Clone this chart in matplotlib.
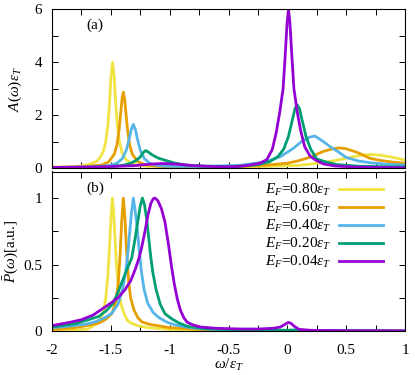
"""
plot.py - Spectral function A(w) and normalized spectrum P(w) for several Fermi energies.

Two stacked panels sharing the frequency axis, gnuplot-like look.
"""

import matplotlib
matplotlib.use("Agg")
import matplotlib.pyplot as plt
from matplotlib.ticker import MultipleLocator, FixedLocator, FuncFormatter

# ---- data ----
fermi_labels = ["0.80", "0.60", "0.40", "0.20", "0.04"]
colors = ["#f0e442", "#e69f00", "#56b4e9", "#009e73", "#9400d3"]

# panel (a): A(w) eps_T
w_a_080 = [-2.0, -1.8, -1.72, -1.663, -1.617, -1.583, -1.56, -1.543, -1.525, -1.511, -1.499,
           -1.485, -1.471, -1.459, -1.445, -1.428, -1.405, -1.376, -1.33, -1.272, -1.2, -1.0,
           -0.6, -0.2, 0.1, 0.3, 0.45, 0.55, 0.65, 0.72, 0.8, 0.9, 1.0]
a_080 = [0.03, 0.05, 0.1, 0.17, 0.26, 0.46, 0.68, 1.0, 1.63, 2.46, 3.42,
         4.0, 3.42, 2.46, 1.63, 1.02, 0.59, 0.34, 0.18, 0.11, 0.07, 0.06,
         0.04, 0.06, 0.1, 0.2, 0.32, 0.42, 0.5, 0.51, 0.48, 0.4, 0.3]

w_a_060 = [-2.0, -1.8, -1.69, -1.573, -1.516, -1.47, -1.447, -1.43, -1.416, -1.404, -1.394,
           -1.384, -1.372, -1.358, -1.341, -1.318, -1.274, -1.217, -1.113, -1.0, -0.6, -0.2,
           0.0, 0.1, 0.2, 0.3, 0.38, 0.44, 0.5, 0.6, 0.7, 0.8, 0.9, 1.0]
a_060 = [0.025, 0.035, 0.06, 0.12, 0.24, 0.53, 0.9, 1.44, 2.09, 2.65, 2.87,
         2.65, 2.09, 1.44, 0.9, 0.53, 0.25, 0.13, 0.07, 0.04, 0.03, 0.1,
         0.18, 0.28, 0.42, 0.62, 0.72, 0.76, 0.73, 0.58, 0.37, 0.28, 0.22, 0.18]

w_a_040 = [-2.0, -1.8, -1.65, -1.59, -1.506, -1.448, -1.402, -1.368, -1.345, -1.327, -1.309,
           -1.291, -1.273, -1.25, -1.216, -1.17, -1.112, -1.04, -0.95, -0.7, -0.4,
           -0.18, -0.06, 0.05, 0.12, 0.19, 0.235, 0.3, 0.36, 0.43, 0.5, 0.6, 0.7, 0.85, 1.0]
a_040 = [0.02, 0.03, 0.04, 0.06, 0.1, 0.18, 0.36, 0.68, 1.08, 1.45, 1.65,
         1.45, 1.08, 0.68, 0.36, 0.18, 0.1, 0.07, 0.06, 0.06, 0.1,
         0.24, 0.43, 0.74, 1.0, 1.17, 1.21, 1.02, 0.82, 0.62, 0.4, 0.27, 0.2, 0.14, 0.11]

w_a_020 = [-2.0, -1.7, -1.5, -1.4, -1.33, -1.28, -1.25, -1.225, -1.204, -1.18, -1.15,
           -1.1, -1.03, -0.95, -0.86, -0.7, -0.5, -0.4, -0.25, -0.15, -0.08, -0.03,
           0.01, 0.04, 0.065, 0.084, 0.103, 0.128, 0.158, 0.198, 0.25, 0.32, 0.42,
           0.6, 0.8, 1.0]
a_020 = [0.02, 0.03, 0.06, 0.1, 0.18, 0.3, 0.42, 0.58, 0.66, 0.6, 0.5,
         0.38, 0.28, 0.18, 0.11, 0.07, 0.06, 0.07, 0.13, 0.24, 0.43, 0.72,
         1.2, 1.77, 2.25, 2.39, 2.25, 1.77, 1.2, 0.72, 0.34, 0.24, 0.13,
         0.07, 0.05, 0.04]

w_a_004 = [-2.0, -1.6, -1.3, -1.15, -1.06, -0.95, -0.8, -0.6, -0.45, -0.347, -0.232, -0.174,
           -0.128, -0.094, -0.065, -0.036, -0.019, -0.002, 0.01, 0.022, 0.039, 0.056, 0.085,
           0.114, 0.148, 0.194, 0.24, 0.31, 0.4, 0.56, 0.75, 1.0]
a_004 = [0.02, 0.04, 0.09, 0.15, 0.17, 0.15, 0.09, 0.05, 0.05, 0.09, 0.18, 0.32,
         0.7, 1.35, 2.1, 3.0, 4.2, 5.5, 6.0, 5.5, 4.2, 3.0, 2.1,
         1.4, 0.8, 0.45, 0.3, 0.15, 0.08, 0.04, 0.02, 0.01]

# panel (b): normalized P(w)
w_p_080 = [-2.0, -1.8, -1.7, -1.665, -1.62, -1.585, -1.56, -1.543, -1.526, -1.51, -1.497,
           -1.487, -1.477, -1.465, -1.452, -1.435, -1.413, -1.387, -1.36, -1.33, -1.27,
           -1.184, -1.0, -0.5, 1.0]
p_080 = [0.0, 0.005, 0.015, 0.03, 0.055, 0.093, 0.16, 0.25, 0.41, 0.65, 0.88,
         1.0, 0.9, 0.7, 0.5, 0.32, 0.2, 0.13, 0.08, 0.06, 0.04,
         0.025, 0.012, 0.004, 0.0]

w_p_060 = [-2.0, -1.8, -1.68, -1.6, -1.54, -1.49, -1.458, -1.437, -1.422, -1.408, -1.394,
           -1.38, -1.366, -1.349, -1.332, -1.304, -1.27, -1.235, -1.17, -1.1, -1.0,
           -0.7, -0.3, 1.0]
p_060 = [0.01, 0.025, 0.045, 0.06, 0.09, 0.133, 0.22, 0.36, 0.56, 0.82, 1.0,
         0.85, 0.6, 0.38, 0.25, 0.16, 0.1, 0.068, 0.05, 0.04, 0.025,
         0.01, 0.004, 0.0]

w_p_040 = [-2.0, -1.85, -1.72, -1.63, -1.55, -1.492, -1.44, -1.401, -1.375, -1.356, -1.336,
           -1.323, -1.309, -1.295, -1.279, -1.258, -1.239, -1.217, -1.187, -1.141, -1.09,
           -1.02, -0.95, -0.85, -0.7, -0.4, 0.0, 1.0]
p_040 = [0.025, 0.037, 0.05, 0.07, 0.1, 0.133, 0.2, 0.31, 0.44, 0.58, 0.78,
         0.9, 1.0, 0.92, 0.8, 0.6, 0.44, 0.31, 0.21, 0.14, 0.1,
         0.065, 0.045, 0.028, 0.015, 0.007, 0.003, 0.0]

w_p_020 = [-2.0, -1.8, -1.6, -1.53, -1.48, -1.44, -1.4, -1.36, -1.322, -1.293, -1.27,
           -1.25, -1.232, -1.214, -1.195, -1.178, -1.161, -1.143, -1.115, -1.08, -1.04,
           -0.98, -0.92, -0.85, -0.7, -0.4, 0.0, 0.08, 0.2, 1.0]
p_020 = [0.03, 0.055, 0.11, 0.16, 0.21, 0.29, 0.38, 0.47, 0.55, 0.7, 0.83,
         0.94, 1.0, 0.95, 0.84, 0.7, 0.56, 0.44, 0.31, 0.2, 0.13,
         0.09, 0.06, 0.035, 0.018, 0.008, 0.006, 0.008, 0.003, 0.0]

w_p_004 = [-2.0, -1.85, -1.75, -1.65, -1.6, -1.5, -1.44, -1.38, -1.33, -1.29, -1.26,
           -1.24, -1.21, -1.185, -1.16, -1.14, -1.125, -1.1, -1.07, -1.04, -1.01,
           -0.985, -0.96, -0.935, -0.91, -0.88, -0.85, -0.8, -0.74, -0.6, -0.4, -0.25,
           -0.12, -0.06, -0.03, 0.0, 0.01, 0.03, 0.06, 0.1, 0.2, 0.5, 1.0]
p_004 = [0.04, 0.065, 0.085, 0.12, 0.15, 0.21, 0.25, 0.31, 0.38, 0.47, 0.55,
         0.62, 0.75, 0.87, 0.96, 0.995, 1.0, 0.98, 0.92, 0.82, 0.65,
         0.49, 0.35, 0.24, 0.16, 0.1, 0.065, 0.045, 0.03, 0.02, 0.015, 0.015,
         0.02, 0.03, 0.045, 0.06, 0.065, 0.058, 0.035, 0.012, 0.005, 0.002, 0.001]

spectra_a = [(w_a_080, a_080), (w_a_060, a_060), (w_a_040, a_040),
             (w_a_020, a_020), (w_a_004, a_004)]
spectra_p = [(w_p_080, p_080), (w_p_060, p_060), (w_p_040, p_040),
             (w_p_020, p_020), (w_p_004, p_004)]

# ---- style ----
plt.rcParams["font.family"] = ["Liberation Serif", "DejaVu Serif"]
plt.rcParams["mathtext.fontset"] = "custom"
plt.rcParams["mathtext.rm"] = "Liberation Serif"
plt.rcParams["mathtext.it"] = "Liberation Serif:italic"
plt.rcParams["axes.unicode_minus"] = False
plt.rcParams["font.size"] = 11

fig = plt.figure(figsize=(4.15, 3.75), dpi=100)
ax1 = fig.add_axes([52 / 415, 1 - 168 / 375, 353 / 415, 158.5 / 375])
ax2 = fig.add_axes([52 / 415, 1 - 331 / 375, 353 / 415, 159.5 / 375], sharex=ax1)

for (w, a), c in zip(spectra_a, colors):
    ax1.plot(w, a, color=c, lw=2.0, solid_joinstyle="round")
for (w, p), c, lab in zip(spectra_p, colors, fermi_labels):
    ax2.plot(w, p, color=c, lw=2.0, solid_joinstyle="round",
             label=r"$E_F$=" + lab + r"$\varepsilon_T$")


def fmt(v, _pos):
    return "%g" % v


for ax in (ax1, ax2):
    ax.set_xlim(-2, 1)
    ax.xaxis.set_major_locator(MultipleLocator(0.5))
    ax.xaxis.set_minor_locator(MultipleLocator(0.25))
    ax.tick_params(which="both", direction="in", top=True, right=True,
                   length=4, width=0.7, labelsize=11)
    ax.tick_params(axis="y", pad=7)
    ax.tick_params(axis="x", pad=9)
    for s in ax.spines.values():
        s.set_linewidth(0.8)

ax1.set_ylim(0, 6)
ax1.yaxis.set_major_locator(MultipleLocator(2))
ax1.yaxis.set_minor_locator(MultipleLocator(1))
ax1.tick_params(labelbottom=False)
ax1.set_ylabel(r"$A(\omega)\varepsilon_T$", fontsize=11)
ax1.yaxis.set_label_coords(-0.08, 0.5)
ax1.text(0.122, 0.9, "(a)", transform=ax1.transAxes, ha="center", va="center", fontsize=11)

ax2.set_ylim(0, 1.2)
ax2.yaxis.set_major_locator(FixedLocator([0, 0.5, 1]))
ax2.yaxis.set_minor_locator(FixedLocator([0.25, 0.75]))
ax2.yaxis.set_major_formatter(FuncFormatter(fmt))
ax2.xaxis.set_major_formatter(FuncFormatter(fmt))
ax2.set_ylabel(r"$\bar{P}(\omega)$[a.u.]", fontsize=11)
ax2.yaxis.set_label_coords(-0.088, 0.5)
ax2.set_xlabel(r"$\omega/\varepsilon_T$", fontsize=11, labelpad=0)
ax2.text(0.122, 0.894, "(b)", transform=ax2.transAxes, ha="center", va="center", fontsize=11)

ax2.legend(loc="upper right", bbox_to_anchor=(0.965, 0.99), frameon=False,
           markerfirst=False, handlelength=2.9, handletextpad=0.5,
           labelspacing=0.12, borderaxespad=0.2, fontsize=11)

fig.savefig("out.png", dpi=100)
plt.close(fig)
